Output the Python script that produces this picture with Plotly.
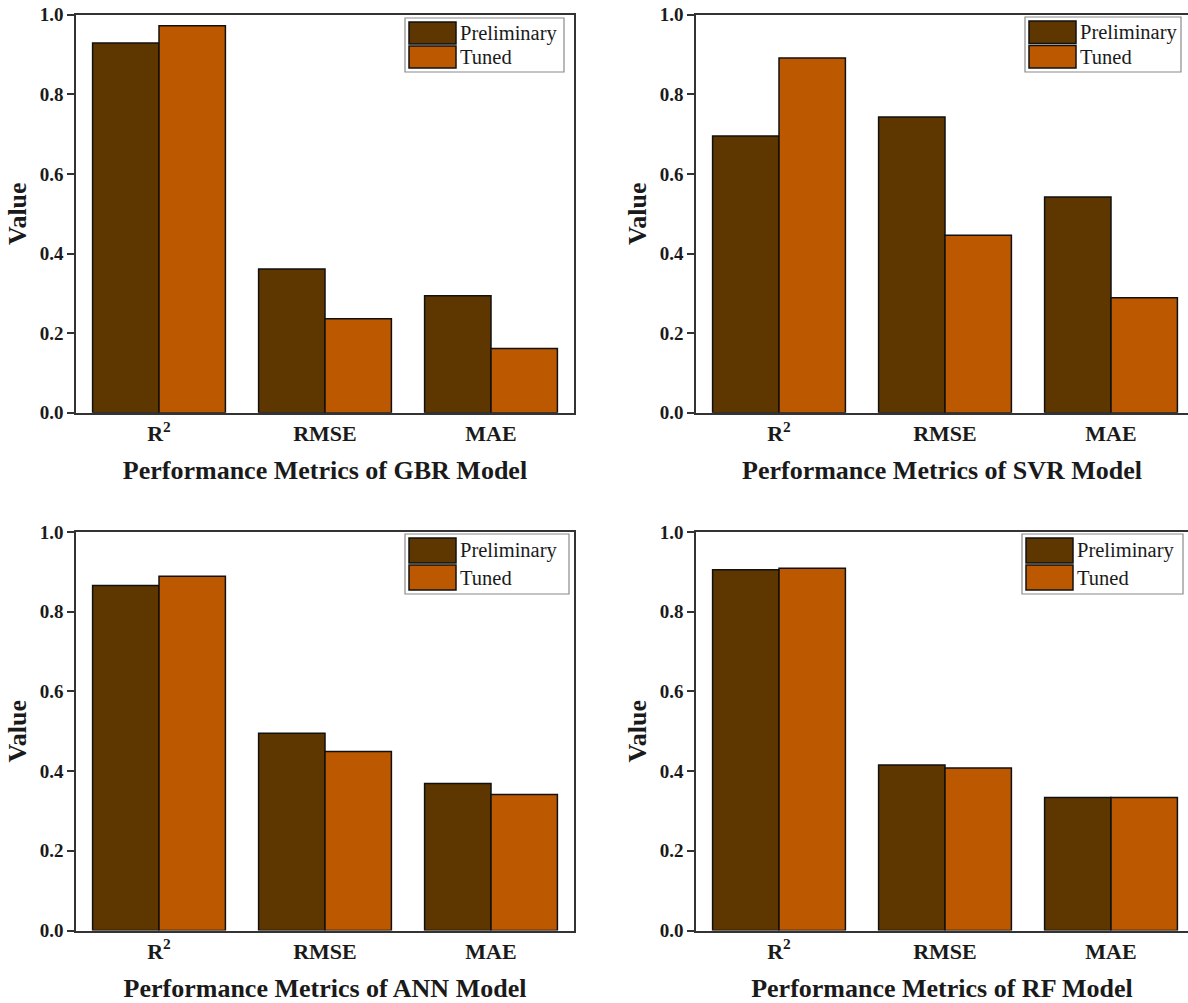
import plotly.graph_objects as go
from plotly.subplots import make_subplots

W, H = 1188, 1003

categories = ["<b>R<sup>2</sup></b>", "<b>RMSE</b>", "<b>MAE</b>"]
series_names = ["Preliminary", "Tuned"]
models = ["GBR", "SVR", "ANN", "RF"]

gbr_prelim = [0.929, 0.361, 0.294]
gbr_tuned = [0.972, 0.236, 0.161]
svr_prelim = [0.695, 0.743, 0.542]
svr_tuned = [0.891, 0.446, 0.289]
ann_prelim = [0.866, 0.495, 0.369]
ann_tuned = [0.889, 0.449, 0.341]
rf_prelim = [0.905, 0.415, 0.334]
rf_tuned = [0.909, 0.408, 0.334]

y_ticks = [0.0, 0.2, 0.4, 0.6, 0.8, 1.0]

data = {
    "GBR": (gbr_prelim, gbr_tuned),
    "SVR": (svr_prelim, svr_tuned),
    "ANN": (ann_prelim, ann_tuned),
    "RF": (rf_prelim, rf_tuned),
}

C_PRE = "#5e3700"
C_TUN = "#bb5800"
FONT = "Liberation Serif, Tinos, Times, serif"
AX = "#333333"
TXT = "#1a1a1a"

fig = make_subplots(rows=2, cols=2)

panels = {
    "GBR": (1, 1, 76, 574, 14.7, 412.7),
    "SVR": (1, 2, 696, 1188, 14.7, 412.7),
    "ANN": (2, 1, 76, 574, 532.0, 930.5),
    "RF": (2, 2, 696, 1188, 532.0, 930.5),
}
legend_boxes = {
    "GBR": (405, 564, 18, 72),
    "SVR": (1025, 1181, 17, 72),
    "ANN": (405, 569, 534, 594),
    "RF": (1022, 1183, 534, 594),
}

def px(x):
    return x / W

def py(y):
    return 1 - y / H

shapes = []
annotations = []

for i, m in enumerate(models):
    r, c, x0, x1, yt, yb = panels[m]
    pre, tun = data[m]
    fig.add_trace(go.Bar(x=[0, 1, 2], y=pre, name=series_names[0], marker_color=C_PRE,
                         marker_line=dict(color="#111111", width=1.5), showlegend=False), row=r, col=c)
    fig.add_trace(go.Bar(x=[0, 1, 2], y=tun, name=series_names[1], marker_color=C_TUN,
                         marker_line=dict(color="#111111", width=1.5), showlegend=False), row=r, col=c)
    xr_max = -0.5 + (x1 - x0) / 166.0
    fig.update_xaxes(domain=[px(x0), px(x1)], range=[-0.5, xr_max], automargin=False,
                     tickmode="array", tickvals=[0, 1, 2], ticktext=categories,
                     ticks="", showline=True, linecolor=AX, linewidth=1.5, mirror=True,
                     showgrid=False, zeroline=False,
                     tickfont=dict(family=FONT, size=22, color=TXT),
                     title=dict(text=f"<b>Performance Metrics of {m} Model</b>",
                                font=dict(family=FONT, size=26, color=TXT), standoff=16),
                     row=r, col=c)
    fig.update_yaxes(domain=[py(yb), py(yt)], range=[0, 1.0], automargin=False,
                     tickmode="array", tickvals=y_ticks, ticktext=[f"<b>{v:.1f}</b>" for v in y_ticks],
                     ticks="outside", ticklen=7, tickwidth=1.5, tickcolor=AX,
                     showline=True, linecolor=AX, linewidth=1.5, mirror=(c == 1),
                     showgrid=False, zeroline=False,
                     tickfont=dict(family=FONT, size=19, color=TXT),
                     title=dict(text="<b>Value</b>", font=dict(family=FONT, size=26, color=TXT),
                                standoff=6),
                     row=r, col=c)

    lx0, lx1, ly0, ly1 = legend_boxes[m]
    shapes.append(dict(type="rect", xref="paper", yref="paper",
                       x0=px(lx0), x1=px(lx1), y0=py(ly1), y1=py(ly0),
                       line=dict(color="#8a8a8a", width=1.2), fillcolor="white", layer="above"))
    hh = (ly1 - ly0 - 8) / 2.0
    sw_w = 47
    for k, (nm, col) in enumerate(zip(series_names, [C_PRE, C_TUN])):
        sy0 = ly0 + 4 + k * (hh + 1)
        sy1 = sy0 + hh - 1
        shapes.append(dict(type="rect", xref="paper", yref="paper",
                           x0=px(lx0 + 4), x1=px(lx0 + 4 + sw_w), y0=py(sy1), y1=py(sy0),
                           line=dict(color="#111111", width=1.5), fillcolor=col, layer="above"))
        annotations.append(dict(text=nm, xref="paper", yref="paper",
                                x=px(lx0 + 4 + sw_w + 2), y=py((sy0 + sy1) / 2),
                                xanchor="left", yanchor="middle", showarrow=False,
                                font=dict(family=FONT, size=20.5, color=TXT)))

fig.update_layout(
    width=W, height=H,
    font=dict(family=FONT),
    margin=dict(l=0, r=0, t=0, b=0),
    paper_bgcolor="white", plot_bgcolor="white",
    barmode="group", bargap=0.2, bargroupgap=0.0,
    shapes=shapes, annotations=annotations,
    showlegend=False,
)

fig.write_html("out.html")
